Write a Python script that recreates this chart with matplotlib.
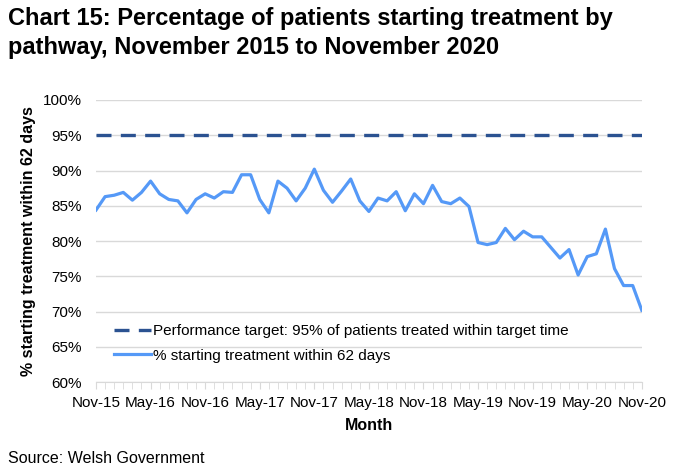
import matplotlib.pyplot as plt
import matplotlib.ticker as mticker
import pandas as pd

plt.rcParams['font.family'] = ['Liberation Sans', 'DejaVu Sans']

# monthly values, Nov-15 .. Nov-20
months = pd.date_range('2015-11-01', '2020-11-01', freq='MS')
pct_62 = [84.4, 86.3, 86.5, 86.9, 85.8, 86.9, 88.5, 86.7, 85.9, 85.7,
          84.0, 85.9, 86.7, 86.1, 87.0, 86.9, 89.4, 89.4, 85.9, 84.0,
          88.5, 87.5, 85.7, 87.5, 90.2, 87.2, 85.5, 87.1, 88.8, 85.7,
          84.2, 86.1, 85.7, 87.0, 84.3, 86.7, 85.3, 87.9, 85.6, 85.3,
          86.1, 84.9, 79.8, 79.5, 79.8, 81.8, 80.2, 81.4, 80.6, 80.6,
          79.1, 77.6, 78.8, 75.2, 77.8, 78.2, 81.7, 76.1, 73.7, 73.7,
          70.2]
target = 95
tick_labels = ['Nov-15', 'May-16', 'Nov-16', 'May-17', 'Nov-17', 'May-18',
               'Nov-18', 'May-19', 'Nov-19', 'May-20', 'Nov-20']

x = list(range(len(months)))

fig = plt.figure(figsize=(6.78, 4.76), dpi=100)
ax = fig.add_axes([0.1416, 0.197, 0.805, 0.593])

ax.plot(x, [target] * len(x), color='#2B5291', lw=2.4, dashes=(4.5, 2.8),
        label='Performance target: 95% of patients treated within target time')
ax.plot(x, pct_62, color='#5599F7', lw=2.3,
        label='% starting treatment within 62 days')

ax.set_ylim(60, 100)
ax.set_xlim(0, len(x) - 1)
ax.yaxis.set_major_locator(mticker.MultipleLocator(5))
ax.yaxis.set_major_formatter(mticker.FuncFormatter(lambda v, p: f'{v:.0f}%'))
ax.set_xticks(x[::6])
ax.set_xticklabels(tick_labels)
ax.set_xticks(x, minor=True)
ax.grid(axis='y', color='#D9D9D9', lw=1)
ax.set_axisbelow(True)
for s in ['top', 'right', 'left']:
    ax.spines[s].set_visible(False)
ax.spines['bottom'].set_color('#D9D9D9')
ax.tick_params(axis='y', length=0, labelsize=11, pad=10)
ax.tick_params(axis='x', which='both', direction='out', color='#D9D9D9',
               labelsize=11, length=5, pad=5)

ax.set_ylabel('% starting treatment within 62 days', fontsize=11.5,
              fontweight='bold', labelpad=5)
ax.set_xlabel('Month', fontsize=11.5, fontweight='bold', labelpad=6)

ax.legend(loc='lower left', bbox_to_anchor=(0.008, 0.02), frameon=False,
          fontsize=11, handlelength=2.4, handletextpad=0.15, labelspacing=0.7)

fig.text(0.012, 0.985, 'Chart 15: Percentage of patients starting treatment by\n'
         'pathway, November 2015 to November 2020', fontsize=17, fontweight='bold',
         va='top', ha='left', linespacing=1.3)
fig.text(0.012, 0.02, 'Source: Welsh Government', fontsize=11.5, ha='left', va='bottom')

plt.savefig('out.png', dpi=100)
